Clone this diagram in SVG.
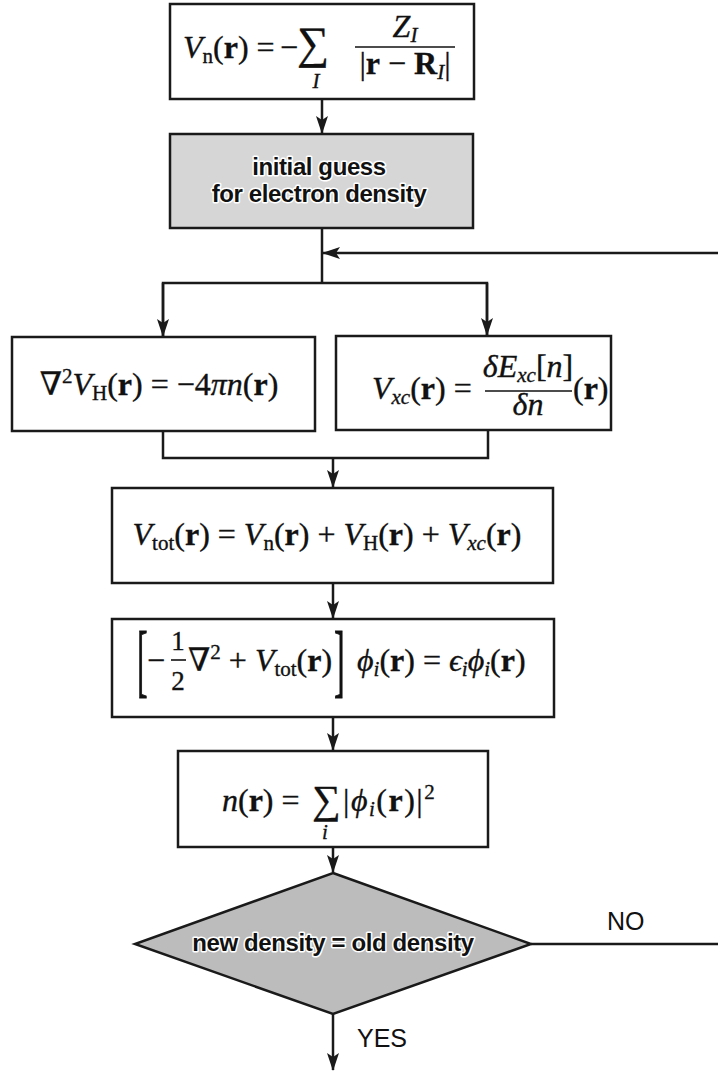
<svg xmlns="http://www.w3.org/2000/svg" width="718" height="1071" viewBox="0 0 718 1071">
<style>
.box{fill:#fff;stroke:#1a1a1a;stroke-width:2.5}
.gbox{fill:#d6d6d6;stroke:#1a1a1a;stroke-width:2.5}
.dia{fill:#bcbcbc;stroke:#1a1a1a;stroke-width:2.5}
.ln{fill:none;stroke:#1a1a1a;stroke-width:2.5}
.fr{stroke:#111;stroke-width:1.6}
.m{font-family:"Liberation Serif","DejaVu Serif",serif;font-size:32px;fill:#111;stroke:#111;stroke-width:0.35}
.i{font-style:italic}
.b{font-weight:bold}
.s{font-size:21px}
.t{font-family:"Liberation Sans",Arial,sans-serif;font-weight:bold;font-size:24px;letter-spacing:-0.4px;fill:#111;stroke:#fff;stroke-width:3;paint-order:stroke;stroke-linejoin:round}
.lbl{font-family:"Liberation Sans",Arial,sans-serif;font-size:25px;fill:#111}
</style>
<defs>
<marker id="ah" markerUnits="userSpaceOnUse" markerWidth="18" markerHeight="12" refX="17" refY="6" orient="auto">
<path d="M0,0 L18,6 L0,12 L4,6 z" fill="#1a1a1a"/>
</marker>
</defs>
<rect width="718" height="1071" fill="#fff"/>
<g id="connectors">
<line class="ln" x1="322" y1="99" x2="322" y2="133" marker-end="url(#ah)"/>
<polyline class="ln" points="322,228 322,283"/>
<polyline class="ln" points="163,337 163,283 487,283 487,336"/>
<line class="ln" x1="163" y1="283" x2="163" y2="336" marker-end="url(#ah)"/>
<line class="ln" x1="487" y1="283" x2="487" y2="335" marker-end="url(#ah)"/>
<line class="ln" x1="718" y1="253" x2="323" y2="253" marker-end="url(#ah)"/>
<polyline class="ln" points="163,431 163,458 488,458 488,430"/>
<line class="ln" x1="333" y1="458" x2="333" y2="487" marker-end="url(#ah)"/>
<line class="ln" x1="333" y1="583" x2="333" y2="618" marker-end="url(#ah)"/>
<line class="ln" x1="333" y1="717" x2="333" y2="750" marker-end="url(#ah)"/>
<line class="ln" x1="333" y1="847" x2="333" y2="872" marker-end="url(#ah)"/>
<line class="ln" x1="333" y1="1014" x2="333" y2="1070" marker-end="url(#ah)"/>
<line class="ln" x1="531" y1="944" x2="718" y2="944"/>
<text class="lbl" x="607" y="930">NO</text>
<text class="lbl" x="357" y="1047">YES</text>
</g>
<g id="vn">
<rect class="box" x="170" y="4" width="304" height="95"/>
<text class="m" y="58"><tspan class="i" x="183">V</tspan><tspan class="s" dy="5">n</tspan><tspan dy="-5">(</tspan><tspan class="b">r</tspan><tspan>) =</tspan></text>
<text class="m" x="280" y="58">−</text>
<text class="m" x="297" y="58" style="font-size:45px">∑</text>
<text class="m i s" x="316" y="88" text-anchor="middle">I</text>
<line class="fr" x1="355" y1="47" x2="455" y2="47"/>
<text class="m" x="405" y="37" text-anchor="middle"><tspan class="i">Z</tspan><tspan class="i s" dy="5">I</tspan></text>
<text class="m" x="405" y="74" text-anchor="middle">|<tspan class="b">r</tspan> − <tspan class="b">R</tspan><tspan class="i s" dy="5">I</tspan><tspan dy="-5">|</tspan></text>
</g>
<g id="guess">
<rect class="gbox" x="170" y="134" width="303" height="94"/>
<text class="t" x="319" y="175" text-anchor="middle">initial guess</text>
<text class="t" x="319" y="202" text-anchor="middle">for electron density</text>
</g>
<g id="hartree">
<rect class="box" x="12" y="337" width="303" height="94"/>
<text class="m" x="159" y="395" text-anchor="middle">∇<tspan class="s" dy="-12">2</tspan><tspan class="i" dy="12">V</tspan><tspan class="s" dy="5">H</tspan><tspan dy="-5">(</tspan><tspan class="b">r</tspan>) = −4<tspan class="i">πn</tspan>(<tspan class="b">r</tspan>)</text>
</g>
<g id="vxc">
<rect class="box" x="336" y="336" width="275" height="94"/>
<text class="m" x="372" y="399"><tspan class="i">V</tspan><tspan class="i s" dy="5">xc</tspan><tspan dy="-5">(</tspan><tspan class="b">r</tspan>) =</text>
<line class="fr" x1="485" y1="391" x2="572" y2="391"/>
<text class="m" x="528" y="377" text-anchor="middle"><tspan class="i">δE</tspan><tspan class="i s" dy="5">xc</tspan><tspan dy="-5">[</tspan><tspan class="i">n</tspan>]</text>
<text class="m i" x="528" y="415" text-anchor="middle">δn</text>
<text class="m" x="573" y="399">(<tspan class="b">r</tspan>)</text>
</g>
<g id="vtot">
<rect class="box" x="112" y="488" width="441" height="95"/>
<text class="m" x="327" y="545" text-anchor="middle"><tspan class="i">V</tspan><tspan class="s" dy="5">tot</tspan><tspan dy="-5">(</tspan><tspan class="b">r</tspan>) = <tspan class="i">V</tspan><tspan class="s" dy="5">n</tspan><tspan dy="-5">(</tspan><tspan class="b">r</tspan>) + <tspan class="i">V</tspan><tspan class="s" dy="5">H</tspan><tspan dy="-5">(</tspan><tspan class="b">r</tspan>) + <tspan class="i">V</tspan><tspan class="i s" dy="5">xc</tspan><tspan dy="-5">(</tspan><tspan class="b">r</tspan>)</text>
</g>
<g id="kohnsham">
<rect class="box" x="112" y="619" width="442" height="98"/>
<text class="m" transform="translate(137,687) scale(1,2.5)">[</text>
<text class="m" x="147" y="671">−</text>
<text class="m" x="178" y="650" text-anchor="middle" style="font-size:27px">1</text>
<line class="fr" x1="171" y1="660" x2="186" y2="660"/>
<text class="m" x="178" y="690" text-anchor="middle" style="font-size:27px">2</text>
<text class="m" x="188" y="671">∇<tspan class="s" dy="-12">2</tspan><tspan dy="12"> + </tspan><tspan class="i">V</tspan><tspan class="s" dy="5">tot</tspan><tspan dy="-5">(</tspan><tspan class="b">r</tspan>)</text>
<text class="m" transform="translate(334,687) scale(1,2.5)">]</text>
<text class="m" x="357" y="671"><tspan class="i">ϕ</tspan><tspan class="i s" dy="5">i</tspan><tspan dy="-5">(</tspan><tspan class="b">r</tspan>) = <tspan class="i">ϵ</tspan><tspan class="i s" dy="5">i</tspan><tspan class="i" dy="-5">ϕ</tspan><tspan class="i s" dy="5">i</tspan><tspan dy="-5">(</tspan><tspan class="b">r</tspan>)</text>
</g>
<g id="density">
<rect class="box" x="178" y="751" width="310" height="96"/>
<text class="m" x="222" y="811"><tspan class="i">n</tspan>(<tspan class="b">r</tspan>) =</text>
<text class="m" x="312" y="813" style="font-size:40px">∑</text>
<text class="m i s" x="325" y="839" text-anchor="middle">i</text>
<text class="m" x="343" y="811" style="letter-spacing:1.5px">|<tspan class="i">ϕ</tspan><tspan class="i s" dy="5">i</tspan><tspan dy="-5">(</tspan><tspan class="b">r</tspan>)|<tspan class="s" dy="-12">2</tspan></text>
</g>
<g id="decision">
<polygon class="dia" points="333,873 531,944 333,1014 135,944"/>
<text class="t" x="333" y="951" text-anchor="middle">new density = old density</text>
</g>
</svg>
